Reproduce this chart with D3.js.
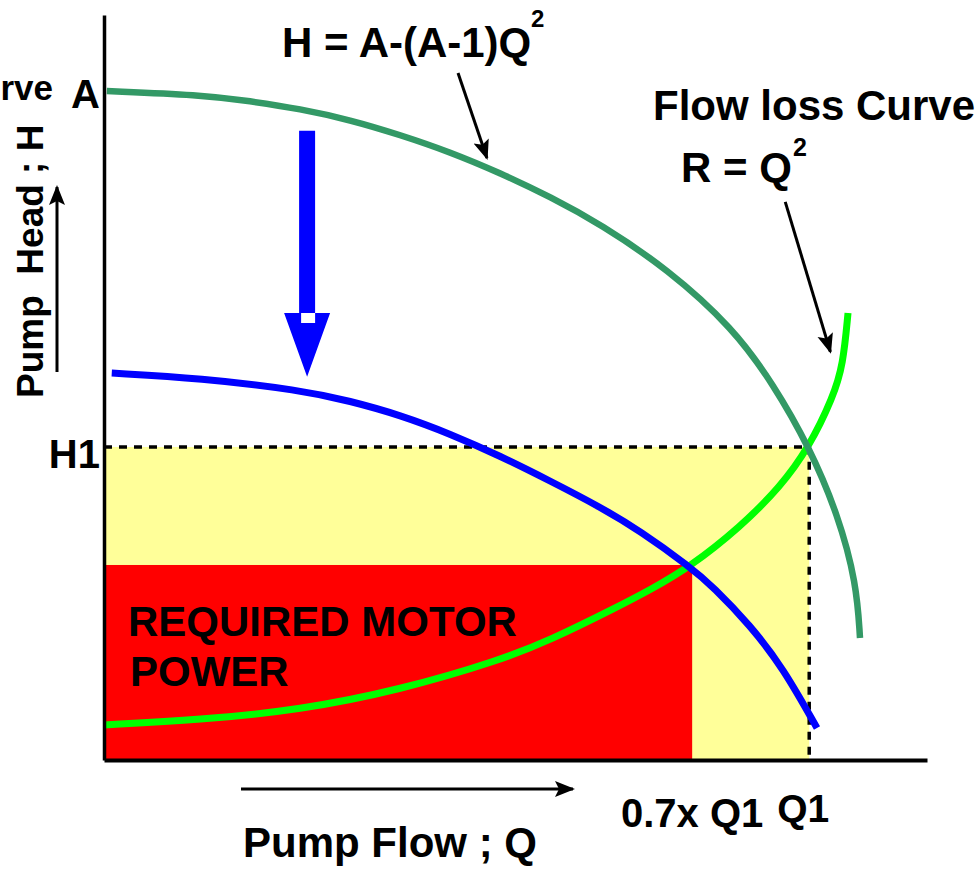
<!DOCTYPE html>
<html><head><meta charset="utf-8">
<script src="https://cdn.jsdelivr.net/npm/d3@7"></script>
<style>
body{margin:0;background:#fff}
svg{display:block}
text{font-family:"Liberation Sans",Arial,Helvetica,sans-serif;font-weight:bold;fill:#000;white-space:pre}
</style>
</head><body>
<svg id="c" width="980" height="871"></svg>
<script>
// ---- data (Q relative to Q1, H relative to H1) ----
const pumpCurve = [[0.004,2.137],[0.136,2.125],[0.207,2.105],[0.278,2.080],[0.349,2.045],[0.420,1.997],[0.491,1.942],[0.562,1.875],[0.633,1.799],[0.704,1.712],[0.799,1.569],[0.892,1.380],[0.949,1.201],[1.000,1.000],[1.041,0.783],[1.067,0.565],[1.072,0.390]];
const reducedCurve = [[0.011,1.236],[0.136,1.220],[0.278,1.182],[0.349,1.147],[0.420,1.102],[0.491,1.042],[0.562,0.971],[0.633,0.891],[0.704,0.808],[0.760,0.732],[0.831,0.617],[0.864,0.553],[0.916,0.431],[0.963,0.294],[1.011,0.102]];
const lossCurve = [[0.000,0.112],[0.136,0.128],[0.278,0.160],[0.420,0.224],[0.562,0.319],[0.633,0.383],[0.728,0.489],[0.774,0.543],[0.831,0.617],[0.902,0.744],[0.959,0.872],[1.000,1.000],[1.034,1.160],[1.048,1.262],[1.055,1.428]];
const operatingPoint = {Q:1.0, H:1.0};
const reducedPoint = {Q:0.834, H:0.623};
const yTickLabels = [{label:"A", value:2.137}, {label:"H1", value:1.0}];
const xTickLabels = [{label:"0.7x Q1", value:0.834}, {label:"Q1", value:1.0}];
const pointerArrows = [
  {from:[0.502,2.195], to:[0.543,1.923]},
  {from:[0.966,1.783], to:[1.030,1.304]}
];
const dropArrow = {Q:0.288, top:2.010, neck:1.428, tip:1.224};

const svg = d3.select("#c");
const x = d3.scaleLinear().domain([0,1.167]).range([104,927]);
const y = d3.scaleLinear().domain([0,2.38]).range([760,15]);

const defs = svg.append("defs");
defs.append("marker").attr("id","ah").attr("markerUnits","userSpaceOnUse")
  .attr("viewBox","0 -10 20 20").attr("refX",18).attr("refY",0)
  .attr("markerWidth",20).attr("markerHeight",20).attr("orient","auto")
  .append("path").attr("d","M0,-8L20,0L0,8L4,0Z").attr("fill","#000");

// areas
svg.append("rect").attr("x",x(0)).attr("y",y(operatingPoint.H))
  .attr("width",x(operatingPoint.Q)-x(0)).attr("height",y(0)-y(operatingPoint.H)).attr("fill","#FFFF99");
svg.append("rect").attr("x",x(0)).attr("y",y(reducedPoint.H))
  .attr("width",x(reducedPoint.Q)-x(0)).attr("height",y(0)-y(reducedPoint.H)).attr("fill","#FF0000");

// dashed guides
svg.append("path")
  .attr("d",`M${x(0)},${y(operatingPoint.H)}H${x(operatingPoint.Q)}V${y(0)}`)
  .attr("fill","none").attr("stroke","#000").attr("stroke-width",3.5).attr("stroke-dasharray","8,7");

// curves
const line = d3.line().x(d=>x(d[0])).y(d=>y(d[1])).curve(d3.curveBasis);
svg.append("path").attr("d",line(lossCurve)).attr("fill","none").attr("stroke","#00FF00").attr("stroke-width",7);
svg.append("path").attr("d",line(reducedCurve)).attr("fill","none").attr("stroke","#0000FF").attr("stroke-width",7);
svg.append("path").attr("d",line(pumpCurve)).attr("fill","none").attr("stroke","#339966").attr("stroke-width",6.5);

// axes
const ya = svg.append("g").attr("transform",`translate(${x(0)},0)`)
  .call(d3.axisLeft(y).tickValues([]).tickSizeOuter(0));
const xa = svg.append("g").attr("transform",`translate(0,${y(0)})`)
  .call(d3.axisBottom(x).tickValues([]).tickSizeOuter(0));
ya.select(".domain").attr("stroke","#000").attr("stroke-width",3.5);
xa.select(".domain").attr("stroke","#000").attr("stroke-width",4);

// tick labels
svg.append("text").attr("x",100).attr("y",y(yTickLabels[0].value)+17).attr("text-anchor","end")
  .style("font-size","40px").text(yTickLabels[0].label);
svg.append("text").attr("x",100).attr("y",y(yTickLabels[1].value)+21).attr("text-anchor","end")
  .style("font-size","40px").text(yTickLabels[1].label);
svg.append("text").attr("x",x(xTickLabels[0].value)).attr("y",827).attr("text-anchor","middle")
  .style("font-size","40px").text(xTickLabels[0].label);
svg.append("text").attr("x",x(xTickLabels[1].value)-6).attr("y",822).attr("text-anchor","middle")
  .style("font-size","39px").text(xTickLabels[1].label);

// clipped title fragment at top-left (as visible in the reference)
svg.append("text").attr("x",53).attr("y",100).attr("text-anchor","end").style("font-size","35px").text("rve");

// formulas
svg.append("text").attr("x",282).attr("y",57).style("font-size","42px").text("H = A-(A-1)Q");
svg.append("text").attr("x",531).attr("y",27).style("font-size","24px").text("2");
svg.append("text").attr("x",653).attr("y",120).style("font-size","42px").text("Flow loss Curve");
svg.append("text").attr("x",681).attr("y",182).style("font-size","42px").text("R = Q");
svg.append("text").attr("x",793).attr("y",156).style("font-size","25px").text("2");

// pointer arrows
pointerArrows.forEach(a=>{
  svg.append("line").attr("x1",x(a.from[0])).attr("y1",y(a.from[1]))
    .attr("x2",x(a.to[0])).attr("y2",y(a.to[1]))
    .attr("stroke","#000").attr("stroke-width",3).attr("marker-end","url(#ah)");
});

// blue drop arrow
const cx = x(dropArrow.Q);
svg.append("path")
  .attr("d",`M${cx-8},${y(dropArrow.top)}H${cx+8}V${y(dropArrow.neck)}H${cx+23}L${cx},${y(dropArrow.tip)}L${cx-23},${y(dropArrow.neck)}H${cx-8}Z`)
  .attr("fill","#0000FF");
svg.append("rect").attr("x",cx-6).attr("y",y(dropArrow.neck)).attr("width",14).attr("height",10).attr("fill","#fff");

// in-area label
svg.append("text").attr("x",128).attr("y",636).style("font-size","42px").text("REQUIRED MOTOR");
svg.append("text").attr("x",130).attr("y",686).style("font-size","42px").text("POWER");

// axis titles with arrows
svg.append("line").attr("x1",241).attr("y1",789).attr("x2",573).attr("y2",789)
  .attr("stroke","#000").attr("stroke-width",3).attr("marker-end","url(#ah)");
svg.append("text").attr("x",243).attr("y",857).style("font-size","42px").text("Pump Flow ; Q");
svg.append("line").attr("x1",57).attr("y1",372).attr("x2",57).attr("y2",187)
  .attr("stroke","#000").attr("stroke-width",3).attr("marker-end","url(#ah)");
svg.append("text").attr("transform","translate(43,398) rotate(-90)").style("font-size","37px").text("Pump  Head ; H");
</script>
</body></html>
